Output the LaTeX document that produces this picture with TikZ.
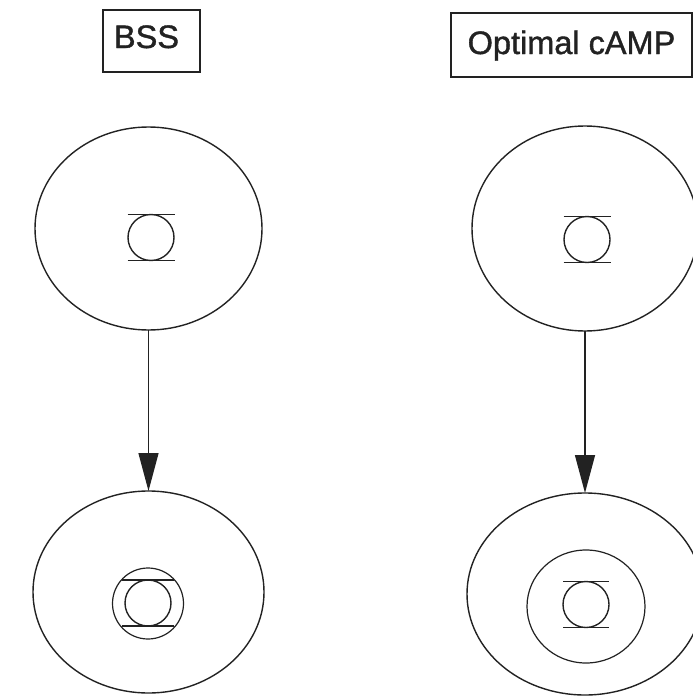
\documentclass[tikz,border=0pt]{standalone}
\usepackage{fontspec}
\setmainfont{Liberation Sans}
\newfontfamily\labfont[FakeBold=1.2]{Liberation Sans}
\usetikzlibrary{arrows.meta,shapes.geometric}
\definecolor{ink}{HTML}{222222}
\tikzset{
  cell/.style={draw=ink, line width=1.4pt, ellipse, inner sep=0pt, outer sep=0pt},
  ring/.style={draw=ink, line width=1.2pt, ellipse, inner sep=0pt, outer sep=0pt},
  labbox/.style={draw=ink, line width=1.3pt, inner sep=0pt, outer sep=0pt},
  labtxt/.style={anchor=base, inner sep=0pt, font=\labfont\fontsize{32.5pt}{36pt}\selectfont, text=ink},
  link/.style={draw=ink, line width=1.4pt, -{Triangle[length=38pt,width=20pt]}},
  pics/chan/.style args={#1}{code={
    \draw[ink, line width=1.4pt] (0,0) circle[radius=23pt];
    \draw[ink, line width=1.8pt] (-#1,-23) -- (#1,-23) (-#1,23) -- (#1,23);
  }}
}
\begin{document}
\begin{tikzpicture}[x=1pt,y=-1pt]
\useasboundingbox (0,0) rectangle (693,696);
% label boxes
\node[labbox, minimum width=97pt, minimum height=62pt] (bssbox) at (151.5,41) {};
\node[labtxt] (bss) at (146.5,48) {BSS};
\node[labbox, minimum width=241pt, minimum height=64pt] (campbox) at (571.5,45) {};
\node[labtxt] (camp) at (571.5,54) {Optimal cAMP};
% cells
\node[cell, minimum width=227pt, minimum height=203pt] (lt) at (148.5,228.5) {};
\node[cell, minimum width=231pt, minimum height=202pt] (lb) at (148.5,592) {};
\node[cell, minimum width=226pt, minimum height=205pt] (rt) at (585,228.5) {};
\node[cell, minimum width=236pt, minimum height=202pt] (rb) at (585,594) {};
% inner rings
\node[ring, minimum width=71pt, minimum height=71pt] (lring) at (148,603.5) {};
\node[ring, minimum width=118pt, minimum height=113pt] (rring) at (586,606.5) {};
% channel symbols
\pic at (151,237.5) {chan={23.5}};
\pic at (587,239.5) {chan={23.5}};
\pic at (148,603) {chan={26}};
\pic at (586,604.5) {chan={23}};
% connectors
\draw[link] (lt.south) -- (lb.north);
\draw[link] (rt.south) -- (rb.north);
\end{tikzpicture}
\end{document}
